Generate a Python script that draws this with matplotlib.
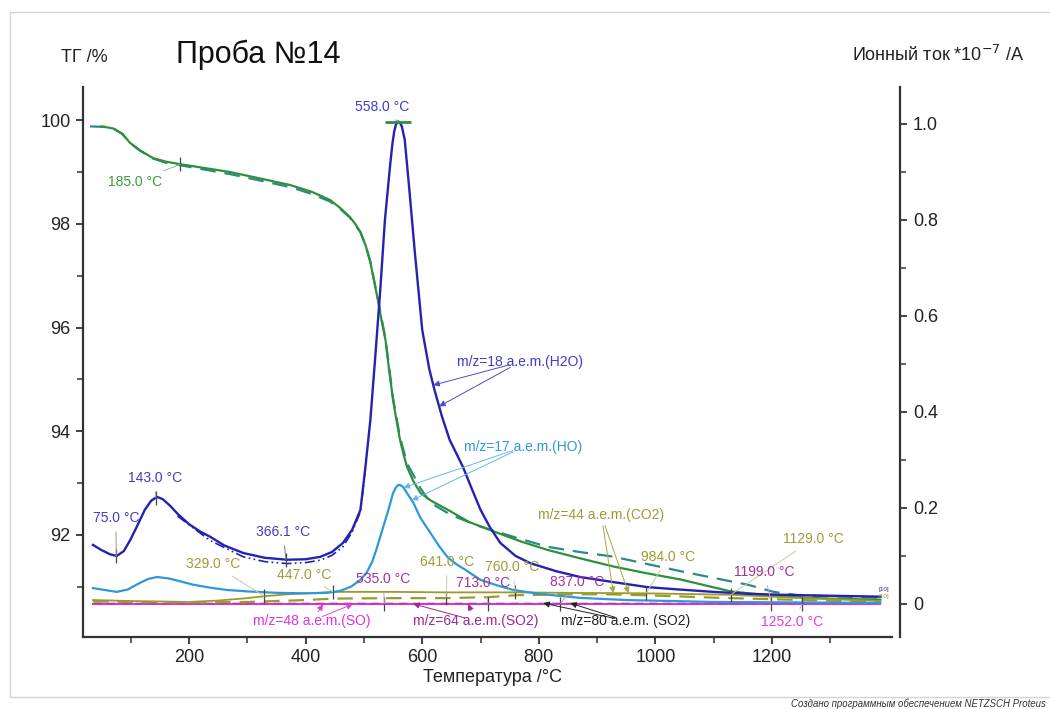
import numpy as np
import matplotlib
matplotlib.use("Agg")
import matplotlib.pyplot as plt
from matplotlib.patches import Rectangle

plt.rcParams['font.family'] = ['Liberation Sans', 'DejaVu Sans']

# ---------------- data ----------------
# TG, solid green (left axis, %)
tg_T = [50, 70, 85, 99, 115, 138, 160, 185, 225, 270, 320, 373, 410, 442, 460, 476, 485,
        494, 503, 511, 517, 524, 530, 537, 543, 550, 556, 562, 568, 574, 585, 597, 615,
        643, 680, 729, 770, 815, 870, 928, 985, 1043, 1129, 1215, 1300, 1386]
tg_v = [99.88, 99.84, 99.74, 99.56, 99.42, 99.27, 99.20, 99.15, 99.08, 99.00, 98.88,
        98.75, 98.62, 98.46, 98.30, 98.13, 98.00, 97.84, 97.58, 97.26, 96.92, 96.53,
        96.15, 95.76, 95.20, 94.60, 94.20, 93.83, 93.55, 93.31, 93.03, 92.81, 92.66,
        92.49, 92.25, 92.04, 91.87, 91.71, 91.55, 91.39, 91.26, 91.14, 90.91, 90.81,
        90.77, 90.75]

# TG, second run, dashed teal (left axis, %)
tg2_T = [30, 56, 70, 85, 99, 115, 138, 160, 185, 225, 270, 320, 373, 410, 442, 460, 476,
         494, 503, 511, 524, 537, 550, 562, 574, 597, 614, 650, 700, 760, 815, 870, 928,
         985, 1043, 1100, 1158, 1203, 1249, 1386]
tg2_v = [99.88, 99.87, 99.84, 99.74, 99.56, 99.42, 99.26, 99.18, 99.13, 99.05, 98.96,
         98.84, 98.71, 98.58, 98.43, 98.28, 98.12, 97.84, 97.58, 97.27, 96.55, 95.78,
         94.63, 93.88, 93.38, 92.90, 92.62, 92.38, 92.16, 91.95, 91.77, 91.67, 91.58,
         91.44, 91.30, 91.17, 91.04, 90.90, 90.83, 90.79]

# m/z = 18 (H2O), ion current *1e-7 A
h2o_T = [35, 50, 65, 76, 88, 99, 112, 124, 135, 145, 155, 167, 180, 200, 220, 236, 260,
         293, 330, 368, 400, 425, 445, 464, 480, 494, 502, 511, 519, 528, 536, 545, 549,
         552, 555, 558, 561, 565, 570, 578, 587, 600, 612, 621, 634, 647, 660, 670, 685,
         700, 716, 734, 760, 785, 830, 871, 930, 986, 1040, 1100, 1160, 1215, 1300, 1386]
h2o_v = [0.123, 0.112, 0.103, 0.100, 0.110, 0.133, 0.165, 0.196, 0.215, 0.223, 0.218,
         0.205, 0.188, 0.166, 0.150, 0.140, 0.122, 0.106, 0.096, 0.092, 0.093, 0.098,
         0.108, 0.127, 0.155, 0.196, 0.279, 0.383, 0.508, 0.654, 0.800, 0.915, 0.960,
         0.985, 0.999, 1.005, 1.004, 0.995, 0.967, 0.862, 0.737, 0.571, 0.490, 0.446,
         0.390, 0.342, 0.310, 0.285, 0.240, 0.196, 0.160, 0.127, 0.100, 0.085, 0.068,
         0.056, 0.045, 0.035, 0.030, 0.025, 0.021, 0.019, 0.017, 0.015]

# m/z = 18, second run (dash-dot)
h2o2_T = [180, 236, 293, 330, 368, 400, 425, 445, 464, 480, 494, 502]
h2o2_v = [0.183, 0.132, 0.098, 0.088, 0.084, 0.086, 0.091, 0.101, 0.119, 0.150, 0.192, 0.275]

# m/z = 17 (HO)
ho_T = [35, 60, 76, 95, 116, 130, 145, 165, 185, 207, 235, 265, 300, 351, 400, 437,
        459, 478, 494, 505, 514, 521, 528, 535, 542, 550, 555, 559, 563, 567, 576, 585,
        597, 614, 628, 643, 658, 674, 700, 730, 756, 800, 871, 950, 1100, 1250, 1386]
ho_v = [0.033, 0.028, 0.025, 0.030, 0.044, 0.052, 0.056, 0.053, 0.047, 0.040, 0.034,
        0.029, 0.026, 0.023, 0.022, 0.023, 0.027, 0.036, 0.050, 0.066, 0.0875, 0.112,
        0.140, 0.168, 0.196, 0.231, 0.243, 0.248, 0.247, 0.244, 0.227, 0.210, 0.179,
        0.148, 0.122, 0.098, 0.083, 0.071, 0.050, 0.038, 0.029, 0.021, 0.0125, 0.008,
        0.004, 0.003, 0.002]

# m/z = 44 (CO2), solid and dashed runs
co2_T = [35, 100, 200, 250, 300, 329, 370, 420, 447, 550, 641, 760, 850, 984, 1129,
         1200, 1252, 1386]
co2_v = [0.008, 0.006, 0.004, 0.007, 0.012, 0.016, 0.020, 0.023, 0.025, 0.025, 0.024,
         0.024, 0.023, 0.022, 0.019, 0.015, 0.012, 0.006]
co2b_T = [35, 200, 300, 400, 447, 550, 641, 713, 760, 850, 920, 984, 1100, 1252, 1386]
co2b_v = [0.005, 0.003, 0.004, 0.008, 0.011, 0.012, 0.012, 0.014, 0.018, 0.020, 0.020,
          0.018, 0.013, 0.008, 0.004]

# m/z = 48 (SO), m/z = 64 (SO2), m/z = 80 (SO2)
so_T = [35, 400, 800, 1200, 1386]
so_v = [-0.0005, -0.0005, -0.0005, -0.0005, -0.0005]
so64_T = [35, 400, 800, 1200, 1386]
so64_v = [0.0, 0.0, 0.0, 0.0, 0.0]
so80_T = [35, 400, 800, 1200, 1386]
so80_v = [0.0015, 0.0015, 0.0015, 0.0015, 0.0015]

x_ticks = [200, 400, 600, 800, 1000, 1200]
tg_ticks = [92, 94, 96, 98, 100]
ion_ticks = [0, 0.2, 0.4, 0.6, 0.8, 1.0]
ion_tick_labels = ['0', '0.2', '0.4', '0.6', '0.8', '1.0']

# ---------------- colours ----------------
C_H2O = '#2323b0'
C_H2O_TXT = '#3d3dc8'
C_HO = '#2e98da'
C_TG = '#2f8f3c'
C_TG2 = '#2a8a8a'
C_CO2 = '#9c9a2c'
C_CO2_TXT = '#9e9c34'
C_SO = '#e030e0'
C_SO64 = '#a0288f'
C_AX = '#333333'

W, H = 1050, 709
fig = plt.figure(figsize=(W / 100, H / 100), dpi=100)
ax = fig.add_axes([83 / W, (H - 637) / H, (892 - 83) / W, (637 - 87) / H])
ax2 = ax.twinx()

# ---------------- curves ----------------
ax.plot(tg2_T, tg2_v, color=C_TG2, lw=1.6, ls=(0, (7, 4)), zorder=2)
ax.plot(tg_T, tg_v, color=C_TG, lw=1.6, zorder=3)

ax2.plot(so64_T, so64_v, color=C_SO64, lw=1.2, zorder=2)
ax2.plot(so80_T, so80_v, color='black', lw=1.0, ls=(0, (6, 4)), zorder=2)
ax2.plot(so_T, so_v, color=C_SO, lw=1.3, zorder=3)
ax2.plot(co2b_T, co2b_v, color=C_CO2, lw=1.6, ls=(0, (7, 4)), zorder=3)
ax2.plot(co2_T, co2_v, color=C_CO2, lw=1.3, zorder=3)
ax2.plot(ho_T, ho_v, color=C_HO, lw=1.6, zorder=4)
ax2.plot(h2o2_T, h2o2_v, color=C_H2O, lw=1.2, ls=(0, (6, 2, 1, 2, 1, 2)), zorder=4)
ax2.plot(h2o_T, h2o_v, color=C_H2O, lw=1.7, zorder=5)

# ---------------- axes ----------------
ax.set_xlim(18, 1406)
ax.set_ylim(90.03, 100.64)
ax2.set_ylim(-0.069, 1.077)

ax.set_xticks(x_ticks)
ax.set_xticks([100, 300, 500, 700, 900, 1100, 1300], minor=True)
ax.set_yticks(tg_ticks)
ax.set_yticks([91, 93, 95, 97, 99], minor=True)
ax2.set_yticks(ion_ticks)
ax2.set_yticklabels(ion_tick_labels)
ax2.set_yticks([0.1, 0.3, 0.5, 0.7, 0.9], minor=True)

for a in (ax, ax2):
    a.tick_params(which='major', direction='out', length=5, width=1.3,
                  color=C_AX, labelcolor='#222222', labelsize=13, pad=4)
    a.tick_params(which='minor', direction='out', length=4, width=1.1, color=C_AX)
    for s in a.spines.values():
        s.set_color(C_AX)
        s.set_linewidth(1.6)
    a.spines['top'].set_visible(False)

ax.spines['right'].set_visible(False)
ax2.spines['left'].set_visible(False)
ax2.spines['bottom'].set_visible(False)
ax2.spines['right'].set_position(('outward', 6))

ax.set_xlabel('Температура /°C', fontsize=13, color='#222222', labelpad=2)
ax.xaxis.set_label_coords(0.506, -0.058)

fig.text(84 / W, 1 - 57 / H, 'ТГ /%', fontsize=13, ha='center', va='center', color='#222222')
fig.text(258 / W, 1 - 55 / H, 'Проба №14', fontsize=22, ha='center', va='center', color='#111111')
fig.text(1024 / W, 1 - 55 / H, 'Ионный ток *10$^{-7}$ /A', fontsize=13, ha='right',
         va='center', color='#222222')

# ---------------- annotations ----------------
FS = 10


def temp_note(curve_ax, T, cT, cv, text, color, tx, ty, lead, tick=True):
    """Temperature label on the ion-current scale, leader to the curve point."""
    y = np.interp(T, cT, cv)
    curve_ax.annotate(text, xy=(T, y), xycoords='data', xytext=(tx, ty),
                      textcoords=ax2.transData, ha='center', va='center',
                      fontsize=FS, color=color, zorder=8,
                      arrowprops=dict(arrowstyle='-', color=lead, lw=0.7,
                                      shrinkA=3, shrinkB=0))
    if tick:
        curve_ax.plot([T], [y], marker='|', ms=10, mew=0.9, color='#444444', zorder=7)


def arrow_note(text, color, lead, tx, ty, targets, cT, cv):
    """Curve name with arrows pointing at the curve."""
    ax2.text(tx, ty, text, ha='center', va='center', fontsize=FS, color=color, zorder=8)
    for T in targets:
        y = np.interp(T, cT, cv)
        ax2.annotate('', xy=(T, y), xytext=(tx, ty), textcoords='data',
                     arrowprops=dict(arrowstyle='-|>', color=lead, lw=0.7,
                                     mutation_scale=9, shrinkA=8, shrinkB=0),
                     zorder=8)


# peak of m/z=18
ax2.plot([558], [np.interp(558, h2o_T, h2o_v)], marker='_', ms=19, mew=2, color=C_TG, zorder=6)
temp_note(ax2, 558, h2o_T, h2o_v, '558.0 °C', C_H2O_TXT, 531, 1.035, '#8888cc', tick=False)

temp_note(ax, 185, tg_T, tg_v, '185.0 °C', '#3a9a3a', 107, 0.879, '#8fc08f')
temp_note(ax2, 75, h2o_T, h2o_v, '75.0 °C', C_H2O_TXT, 74.6, 0.179, '#999999')
temp_note(ax2, 143, h2o_T, h2o_v, '143.0 °C', C_H2O_TXT, 141.6, 0.2625, '#999999')
temp_note(ax2, 366.1, h2o_T, h2o_v, '366.1 °C', C_H2O_TXT, 361.3, 0.150, '#777777')

temp_note(ax2, 329, co2_T, co2_v, '329.0 °C', C_CO2_TXT, 241.2, 0.083, '#c8c8a0')
temp_note(ax2, 447, co2_T, co2_v, '447.0 °C', C_CO2_TXT, 397.4, 0.060, '#c8c8a0')
temp_note(ax2, 535, so64_T, so64_v, '535.0 °C', '#a83098', 533, 0.052, '#c8a0c0')
temp_note(ax2, 641, co2b_T, co2b_v, '641.0 °C', C_CO2_TXT, 642.9, 0.0875, '#c8c8a0')
temp_note(ax2, 713, so64_T, so64_v, '713.0 °C', '#a83098', 705, 0.044, '#c8a0c0')
temp_note(ax2, 760, co2_T, co2_v, '760.0 °C', C_CO2_TXT, 754.5, 0.077, '#c8c8a0')
temp_note(ax2, 837, so64_T, so64_v, '837.0 °C', '#a83098', 866, 0.046, '#c8a0c0')
temp_note(ax2, 984, co2_T, co2_v, '984.0 °C', C_CO2_TXT, 1022.3, 0.098, '#c8c8a0')
temp_note(ax2, 1129, co2_T, co2_v, '1129.0 °C', C_CO2_TXT, 1271.7, 0.135, '#c8c8a0')
temp_note(ax2, 1199, so64_T, so64_v, '1199.0 °C', '#a83098', 1187, 0.067, '#c8a0c0')
temp_note(ax2, 1252, so_T, so_v, '1252.0 °C', '#e040d8', 1235, -0.0375, '#e0a0e0')

arrow_note('m/z=18 a.e.m.(H2O)', C_H2O_TXT, '#4a4ad0', 768, 0.504, [619, 629], h2o_T, h2o_v)
arrow_note('m/z=17 a.e.m.(HO)', C_HO, '#6ab8e8', 773.4, 0.327, [568, 582], ho_T, ho_v)
arrow_note('m/z=44 a.e.m.(CO2)', C_CO2_TXT, '#a8a840', 907.3, 0.185, [928, 954], co2_T, co2_v)
arrow_note('m/z=48 a.e.m.(SO)', C_SO, '#e040e0', 411, -0.035, [430, 481], so_T, so_v)
arrow_note('m/z=64 a.e.m.(SO2)', C_SO64, C_SO64, 691, -0.035, [584.5, 679], so64_T, so64_v)
arrow_note('m/z=80 a.e.m. (SO2)', '#222222', '#222222', 948.9, -0.035, [807.7, 854],
           so80_T, so80_v)

# end-of-run markers
ax2.text(1392, 0.03, '[10]', fontsize=4.5, color=C_H2O, ha='center', va='center', zorder=8)
ax2.text(1392, 0.015, '[10]', fontsize=4.5, color=C_CO2, ha='center', va='center', zorder=8)

# ---------------- frame and credit ----------------
fig.add_artist(Rectangle((10 / W, (H - 697) / H), (1060 - 10) / W, (697 - 12) / H,
                         transform=fig.transFigure, fill=False, ec='#d4d4d4', lw=1.0))
fig.text(1046 / W, 1 - 704 / H, 'Создано программным обеспечением NETZSCH Proteus',
         fontsize=6.9, style='italic', ha='right', va='center', color='#333333')

fig.savefig('out.png', dpi=100)
